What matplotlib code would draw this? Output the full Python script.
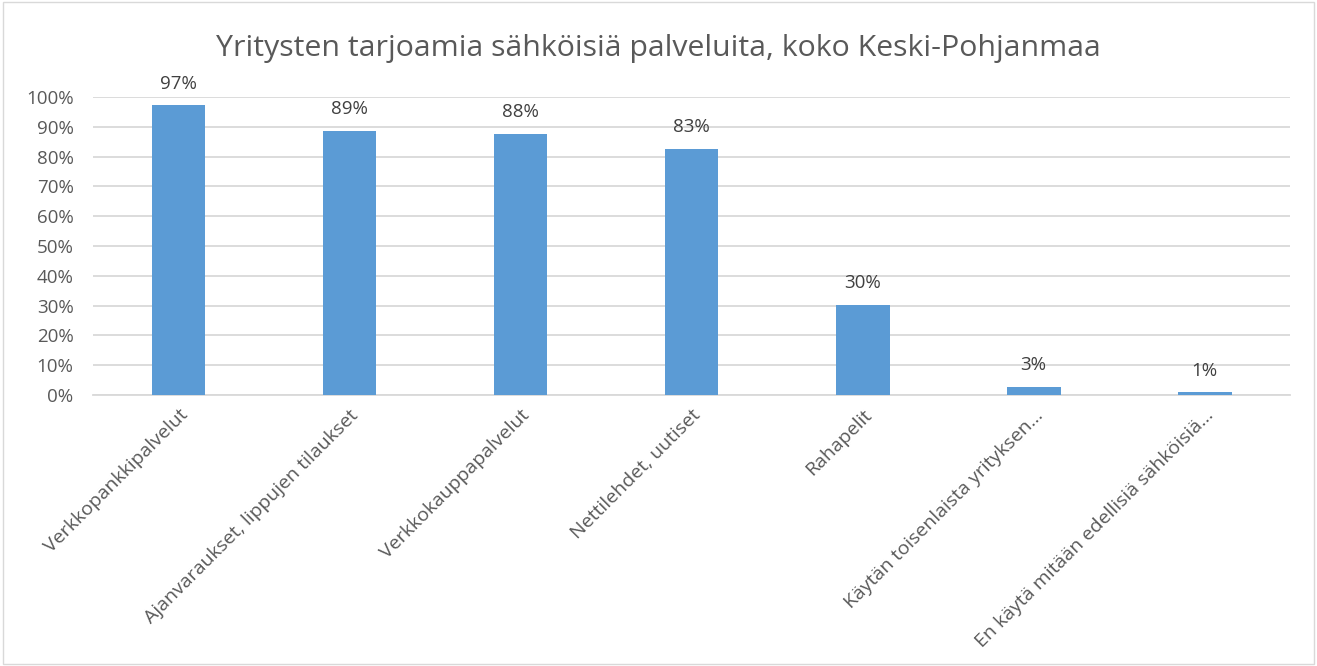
import numpy as np
import matplotlib.pyplot as plt
from matplotlib.patches import Rectangle

categories = ['Verkkopankkipalvelut', 'Ajanvaraukset, lippujen tilaukset',
              'Verkkokauppapalvelut', 'Nettilehdet, uutiset', 'Rahapelit',
              'Käytän toisenlaista yrityksen…', 'En käytä mitään edellisiä sähköisiä…']
values = [97.3, 88.6, 87.6, 82.6, 30.2, 2.7, 1.0]  # percent
value_labels = ['97%', '89%', '88%', '83%', '30%', '3%', '1%']
yticks = [0, 10, 20, 30, 40, 50, 60, 70, 80, 90, 100]

plt.rcParams['font.family'] = ['Open Sans', 'DejaVu Sans']

fig = plt.figure(figsize=(13.17, 6.66), dpi=100)
ax = fig.add_axes([0.0706, 0.4069, 0.909, 0.4475])

x = np.arange(len(categories))
bars = ax.bar(x, values, width=0.315, color='#5b9bd5', zorder=3)

for b, lab in zip(bars, value_labels):
    ax.annotate(lab, (b.get_x() + b.get_width() / 2, b.get_height()),
                xytext=(0, 9), textcoords='offset points', ha='center', va='bottom',
                fontsize=13.5, color='#404040')

ax.set_ylim(0, 100)
ax.set_xlim(-0.5, len(categories) - 0.5)
ax.set_yticks(yticks)
ax.set_yticklabels([f'{t}%' for t in yticks], fontsize=13.5, color='#595959')
ax.set_xticks(x)
ax.set_xticklabels(categories, rotation=45, ha='right', rotation_mode='anchor',
                   fontsize=14, color='#595959')
ax.tick_params(axis='both', length=0)
ax.tick_params(axis='y', pad=14)
ax.tick_params(axis='x', pad=8)
ax.grid(axis='y', color='#d9d9d9', linewidth=1.3, zorder=0)
for s in ['top', 'right', 'left']:
    ax.spines[s].set_visible(False)
ax.spines['bottom'].set_color('#d9d9d9')
ax.spines['bottom'].set_linewidth(1.3)

fig.text(0.5, 0.927, 'Yritysten tarjoamia sähköisiä palveluita, koko Keski-Pohjanmaa',
         ha='center', va='center', fontsize=21.8, color='#595959')

fig.patches.append(Rectangle((0.002, 0.003), 0.996, 0.994, transform=fig.transFigure,
                             fill=False, edgecolor='#d9d9d9', linewidth=1))

fig.savefig('out.png', dpi=100)
